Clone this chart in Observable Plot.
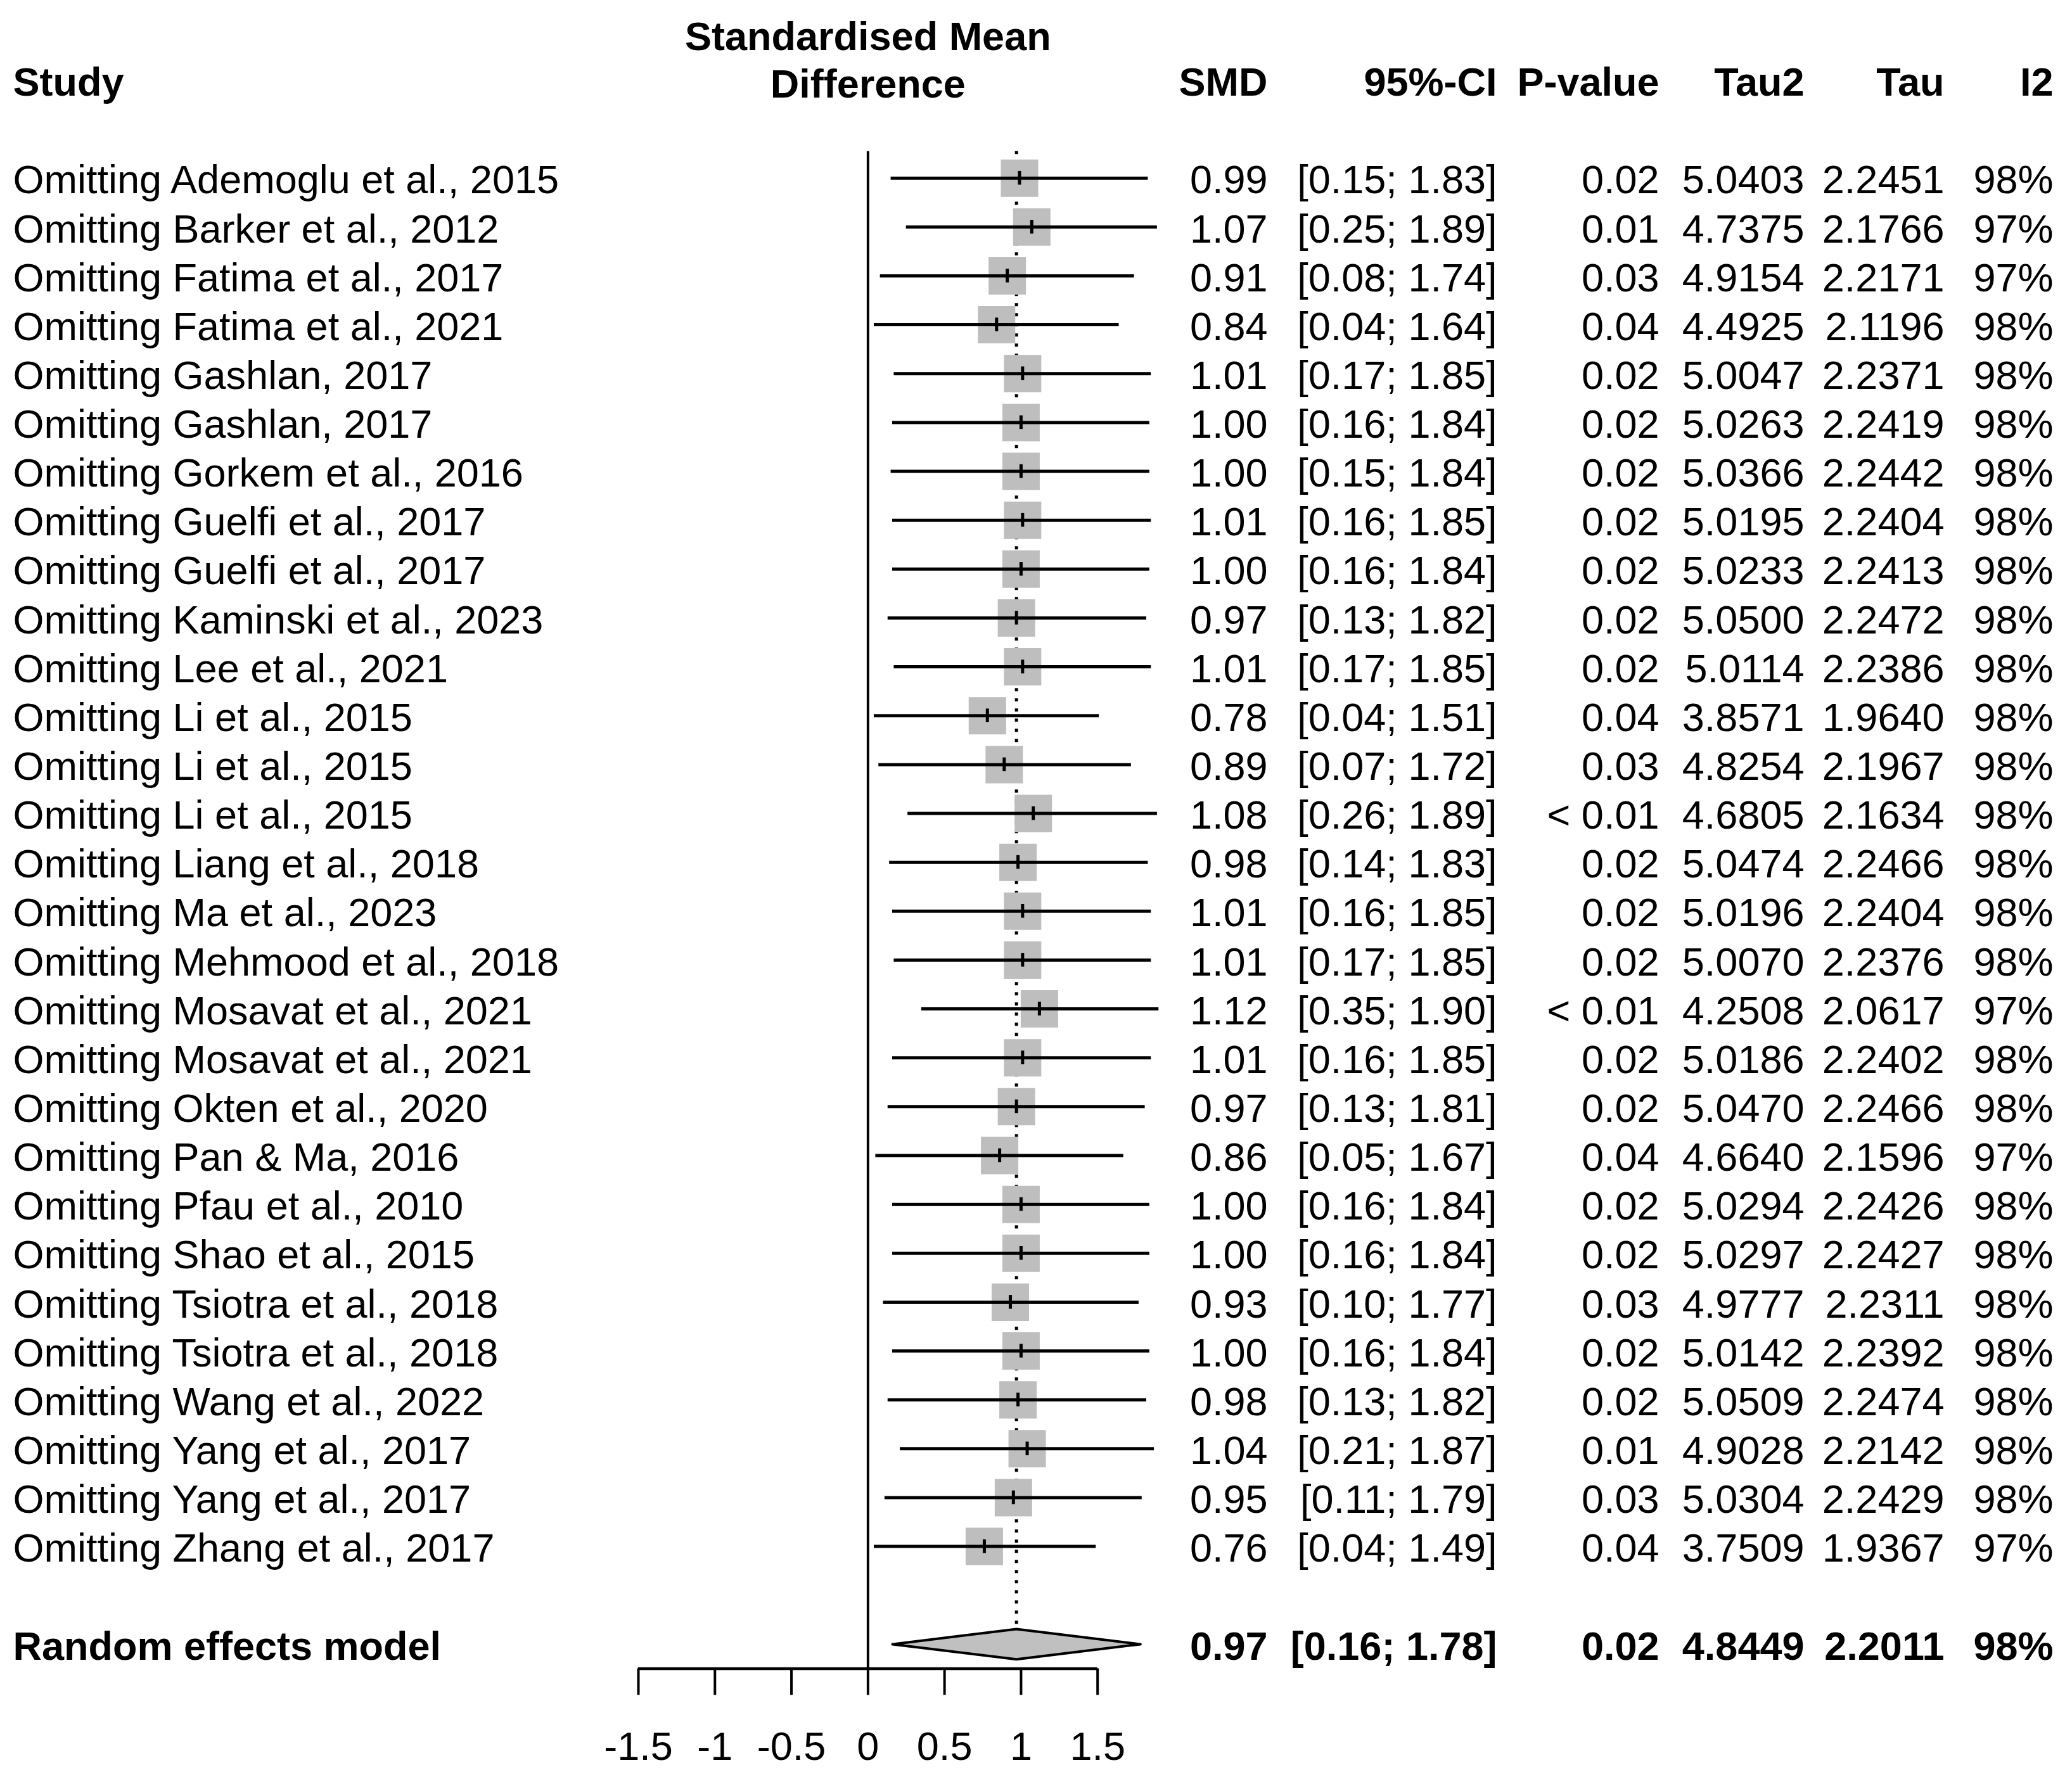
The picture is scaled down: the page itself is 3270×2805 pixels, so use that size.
<!DOCTYPE html>
<html>
<head>
<meta charset="utf-8">
<script src="https://cdn.jsdelivr.net/npm/d3@7"></script>
<script src="https://cdn.jsdelivr.net/npm/@observablehq/plot@0.6"></script>
<style>
  html, body { margin: 0; padding: 0; background: white; }
</style>
</head>
<body>
<div id="chart"></div>
<script>
const studies = [
  "Omitting Ademoglu et al., 2015",
  "Omitting Barker et al., 2012",
  "Omitting Fatima et al., 2017",
  "Omitting Fatima et al., 2021",
  "Omitting Gashlan, 2017",
  "Omitting Gashlan, 2017",
  "Omitting Gorkem et al., 2016",
  "Omitting Guelfi et al., 2017",
  "Omitting Guelfi et al., 2017",
  "Omitting Kaminski et al., 2023",
  "Omitting Lee et al., 2021",
  "Omitting Li et al., 2015",
  "Omitting Li et al., 2015",
  "Omitting Li et al., 2015",
  "Omitting Liang et al., 2018",
  "Omitting Ma et al., 2023",
  "Omitting Mehmood et al., 2018",
  "Omitting Mosavat et al., 2021",
  "Omitting Mosavat et al., 2021",
  "Omitting Okten et al., 2020",
  "Omitting Pan & Ma, 2016",
  "Omitting Pfau et al., 2010",
  "Omitting Shao et al., 2015",
  "Omitting Tsiotra et al., 2018",
  "Omitting Tsiotra et al., 2018",
  "Omitting Wang et al., 2022",
  "Omitting Yang et al., 2017",
  "Omitting Yang et al., 2017",
  "Omitting Zhang et al., 2017"
];
const smd = [0.99, 1.07, 0.91, 0.84, 1.01, 1.00, 1.00, 1.01, 1.00, 0.97, 1.01, 0.78, 0.89, 1.08, 0.98, 1.01, 1.01, 1.12, 1.01, 0.97, 0.86, 1.00, 1.00, 0.93, 1.00, 0.98, 1.04, 0.95, 0.76];
const ciLower = [0.15, 0.25, 0.08, 0.04, 0.17, 0.16, 0.15, 0.16, 0.16, 0.13, 0.17, 0.04, 0.07, 0.26, 0.14, 0.16, 0.17, 0.35, 0.16, 0.13, 0.05, 0.16, 0.16, 0.10, 0.16, 0.13, 0.21, 0.11, 0.04];
const ciUpper = [1.83, 1.89, 1.74, 1.64, 1.85, 1.84, 1.84, 1.85, 1.84, 1.82, 1.85, 1.51, 1.72, 1.89, 1.83, 1.85, 1.85, 1.90, 1.85, 1.81, 1.67, 1.84, 1.84, 1.77, 1.84, 1.82, 1.87, 1.79, 1.49];
const pValues = ["0.02", "0.01", "0.03", "0.04", "0.02", "0.02", "0.02", "0.02", "0.02", "0.02", "0.02", "0.04", "0.03", "< 0.01", "0.02", "0.02", "0.02", "< 0.01", "0.02", "0.02", "0.04", "0.02", "0.02", "0.03", "0.02", "0.02", "0.01", "0.03", "0.04"];
const tau2 = [5.0403, 4.7375, 4.9154, 4.4925, 5.0047, 5.0263, 5.0366, 5.0195, 5.0233, 5.0500, 5.0114, 3.8571, 4.8254, 4.6805, 5.0474, 5.0196, 5.0070, 4.2508, 5.0186, 5.0470, 4.6640, 5.0294, 5.0297, 4.9777, 5.0142, 5.0509, 4.9028, 5.0304, 3.7509];
const tau = [2.2451, 2.1766, 2.2171, 2.1196, 2.2371, 2.2419, 2.2442, 2.2404, 2.2413, 2.2472, 2.2386, 1.9640, 2.1967, 2.1634, 2.2466, 2.2404, 2.2376, 2.0617, 2.2402, 2.2466, 2.1596, 2.2426, 2.2427, 2.2311, 2.2392, 2.2474, 2.2142, 2.2429, 1.9367];
const i2 = [98, 97, 97, 98, 98, 98, 98, 98, 98, 98, 98, 98, 98, 98, 98, 98, 98, 97, 98, 98, 97, 98, 98, 98, 98, 98, 98, 98, 97];

const pooledLabel = "Random effects model";
const pooledSmd = 0.97, pooledLower = 0.16, pooledUpper = 1.78;
const pooledP = "0.02", pooledTau2 = 4.8449, pooledTau = 2.2011, pooledI2 = 98;

const xTicks = [-1.5, -1, -0.5, 0, 0.5, 1, 1.5];
const xTickLabels = ["-1.5", "-1", "-0.5", "0", "0.5", "1", "1.5"];
const studyHeader = "Study";
const effectHeader = "Standardised Mean\nDifference";
const colHeaders = ["SMD", "95%-CI", "P-value", "Tau2", "Tau", "I2"];

// ---- layout ----
const W = 3270, H = 2805;
const FONT = "Liberation Sans, Arial, Helvetica, sans-serif";
const FS = 63;
const TDY = 4;
const rowTop = 280.7, rowStep = 77.14;
const nRows = studies.length;
const pooledIdx = nRows + 1;        // one blank row before pooled
const headerIdx = -2;
const axisIdx = pooledIdx + 0.5;
const topIdx = -0.55;
const diamondHalf = 0.31;
const colRights = [2000, 2362, 2618, 2847, 3068, 3240];

const rows = studies.map((s, i) => ({
  i, study: s, smd: smd[i], lo: ciLower[i], hi: ciUpper[i],
  p: pValues[i], tau2: tau2[i], tau: tau[i], i2: i2[i]
}));
const pooledRow = {
  i: pooledIdx, study: pooledLabel, smd: pooledSmd, lo: pooledLower, hi: pooledUpper,
  p: pooledP, tau2: pooledTau2, tau: pooledTau, i2: pooledI2
};

const colFormats = [
  d => d.smd.toFixed(2),
  d => `[${d.lo.toFixed(2)}; ${d.hi.toFixed(2)}]`,
  d => d.p,
  d => d.tau2.toFixed(4),
  d => d.tau.toFixed(4),
  d => d.i2 + "%"
];

const diamond = [
  {x: pooledLower, y: pooledIdx},
  {x: pooledSmd, y: pooledIdx - diamondHalf},
  {x: pooledUpper, y: pooledIdx},
  {x: pooledSmd, y: pooledIdx + diamondHalf},
  {x: pooledLower, y: pooledIdx}
];

const yOf = idx => rowTop + idx * rowStep;
const axisPix = yOf(axisIdx);

const textMarks = [];
// study labels
textMarks.push(Plot.text(rows, {text: "study", y: "i", frameAnchor: "left", dx: 20, dy: TDY, textAnchor: "start", fontSize: FS, fill: "black"}));
textMarks.push(Plot.text([pooledRow], {text: "study", y: "i", frameAnchor: "left", dx: 20, dy: TDY, textAnchor: "start", fontSize: FS, fontWeight: "bold", fill: "black"}));
textMarks.push(Plot.text([studyHeader], {text: d => d, y: [headerIdx], frameAnchor: "left", dx: 20, dy: TDY, textAnchor: "start", fontSize: FS, fontWeight: "bold", fill: "black"}));
textMarks.push(Plot.text([effectHeader], {text: d => d, x: [0], y: [headerIdx - 0.5], dy: TDY, textAnchor: "middle", lineHeight: 1.2, fontSize: FS, fontWeight: "bold", fill: "black"}));
colFormats.forEach((fmt, c) => {
  textMarks.push(Plot.text(rows, {text: fmt, y: "i", frameAnchor: "right", dx: colRights[c] - W, dy: TDY, textAnchor: "end", fontSize: FS, fill: "black"}));
  textMarks.push(Plot.text([pooledRow], {text: fmt, y: "i", frameAnchor: "right", dx: colRights[c] - W, dy: TDY, textAnchor: "end", fontSize: FS, fontWeight: "bold", fill: "black"}));
  textMarks.push(Plot.text([colHeaders[c]], {text: d => d, y: [headerIdx], frameAnchor: "right", dx: colRights[c] - W, dy: TDY, textAnchor: "end", fontSize: FS, fontWeight: "bold", fill: "black"}));
});

const chart = Plot.plot({
  width: W,
  height: H,
  marginTop: 0,
  marginLeft: 0,
  marginRight: 0,
  marginBottom: H - axisPix,
  style: {fontFamily: FONT, fontSize: FS + "px", background: "white", color: "black"},
  x: {type: "linear", domain: [-1.5, 1.5], range: [1007, 1731.7], axis: null},
  y: {type: "linear", domain: [0, 28], range: [yOf(0), yOf(28)], axis: null},
  marks: [
    Plot.ruleX([pooledSmd], {x: d => d, y1: topIdx, y2: pooledIdx - diamondHalf, stroke: "black", strokeWidth: 5, strokeDasharray: "5,11"}),
    Plot.ruleX([0], {x: d => d, y1: topIdx, y2: axisIdx, stroke: "black", strokeWidth: 4}),
    Plot.dot(rows, {x: "smd", y: "i", symbol: "square", r: 59 / Math.sqrt(Math.PI), fill: "#bebebe", stroke: "none"}),
    Plot.ruleY(rows, {y: "i", x1: "lo", x2: "hi", stroke: "black", strokeWidth: 5}),
    Plot.ruleX(rows, {x: "smd", y1: d => d.i - 0.14, y2: d => d.i + 0.14, stroke: "black", strokeWidth: 5}),
    Plot.line(diamond, {x: "x", y: "y", fill: "#c0c0c0", stroke: "black", strokeWidth: 4}),
    Plot.ruleY([axisIdx], {y: d => d, x1: xTicks[0], x2: xTicks[xTicks.length - 1], stroke: "black", strokeWidth: 4.5}),
    Plot.axisX({ticks: xTicks, anchor: "bottom", tickSize: 42, tickPadding: 57, strokeWidth: 4,
      tickFormat: d => xTickLabels[xTicks.indexOf(d)], fontSize: FS, fill: "black", stroke: "black"}),
    ...textMarks
  ]
});
document.getElementById("chart").appendChild(chart);
</script>
</body>
</html>
